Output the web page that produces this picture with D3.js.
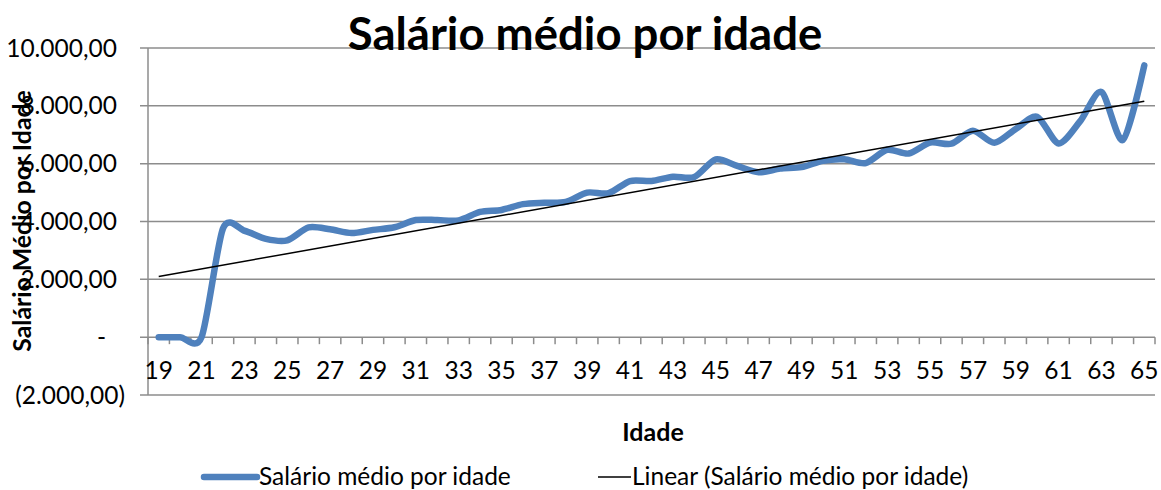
<!DOCTYPE html>
<html>
<head>
<meta charset="utf-8">
<script src="https://cdn.jsdelivr.net/npm/d3@7"></script>
<style>
    body { margin: 0; background: #fff; }
    svg { font-family: Lato, "Open Sans", sans-serif; }
    .grid line { stroke: #8c8c8c; stroke-width: 1.5; }
</style>
</head>
<body>
<div id="chart"></div>
<script>
// idades (categorias) e salario medio
const idades = d3.range(19, 66);
const salarios = [
    0, 0, 0, 3760, 3680, 3400, 3350, 3800, 3730, 3600,
    3710, 3800, 4050, 4050, 4040, 4330, 4400, 4600, 4650, 4680,
    5000, 4980, 5400, 5400, 5550, 5540, 6150, 5920, 5700, 5830,
    5880, 6100, 6150, 6020, 6480, 6350, 6730, 6690, 7140, 6720,
    7200, 7620, 6700, 7460, 8480, 6820, 9400
];
const yTicks = [-2000, 0, 2000, 4000, 6000, 8000, 10000];
const xLabels = idades.filter((d, i) => i % 2 == 0);

const data = idades.map((d, i) => ({ idade: d, valor: salarios[i] }));

let width = 1161, height = 490;
let margin = { top: 48, right: 6, bottom: 95, left: 148 };

let svg = d3.select("#chart").append("svg")
    .attr("width", width)
    .attr("height", height);

let x = d3.scaleBand()
    .domain(idades)
    .range([margin.left, width - margin.right]);

let y = d3.scaleLinear()
    .domain([-2000, 10000])
    .range([height - margin.bottom, margin.top]);

// linha de tendencia (minimos quadrados)
let n = data.length;
let mx = d3.mean(data, (d, i) => i), my = d3.mean(data, d => d.valor);
let slope = d3.sum(data, (d, i) => (i - mx) * (d.valor - my)) / d3.sum(data, (d, i) => (i - mx) * (i - mx));
let intercept = my - slope * mx;

// grade horizontal
svg.append("g")
    .attr("class", "grid")
    .selectAll("line")
    .data(yTicks)
    .join("line")
    .attr("x1", margin.left - 8)
    .attr("x2", width - margin.right)
    .attr("y1", d => y(d))
    .attr("y2", d => y(d));

// eixo vertical
svg.append("line")
    .attr("x1", margin.left).attr("x2", margin.left)
    .attr("y1", y(10000)).attr("y2", y(-2000))
    .attr("stroke", "#8c8c8c").attr("stroke-width", 1.5);

// marcas do eixo x (entre categorias)
let bounds = d3.range(n + 1).map(i => margin.left + i * x.bandwidth());
svg.append("g")
    .selectAll("line")
    .data(bounds)
    .join("line")
    .attr("x1", d => d).attr("x2", d => d)
    .attr("y1", y(0)).attr("y2", y(0) + 7)
    .attr("stroke", "#8c8c8c").attr("stroke-width", 1.5);

// rotulos y
const fmt = v => {
    if (v == 0) return "-";
    let s = d3.format(",.2f")(Math.abs(v)).replace(/,/g, "#").replace(".", ",").replace(/#/g, ".");
    return v < 0 ? "(" + s + ")" : s;
};
svg.append("g")
    .selectAll("text")
    .data(yTicks)
    .join("text")
    .attr("x", d => d == 0 ? 106 : (d < 0 ? 125 : 117))
    .attr("y", d => y(d))
    .attr("dy", "0.35em")
    .attr("text-anchor", "end")
    .style("font-size", "24.5px")
    .text(fmt);

// rotulos x
svg.append("g")
    .selectAll("text")
    .data(xLabels)
    .join("text")
    .attr("x", d => x(d) + x.bandwidth() / 2)
    .attr("y", 370)
    .attr("dy", "0.35em")
    .attr("text-anchor", "middle")
    .style("font-size", "24.5px")
    .text(d => d);

// serie suavizada
let line = d3.line()
    .x(d => x(d.idade) + x.bandwidth() / 2)
    .y(d => y(d.valor))
    .curve(d3.curveCardinal.tension(0.2));

svg.append("path")
    .datum(data)
    .attr("fill", "none")
    .attr("stroke", "#4f81bd")
    .attr("stroke-width", 6.5)
    .attr("stroke-linecap", "round")
    .attr("stroke-linejoin", "round")
    .attr("d", line);

// tendencia linear
svg.append("line")
    .attr("x1", x(idades[0]) + x.bandwidth() / 2)
    .attr("x2", x(idades[n - 1]) + x.bandwidth() / 2)
    .attr("y1", y(intercept))
    .attr("y2", y(intercept + slope * (n - 1)))
    .attr("stroke", "black")
    .attr("stroke-width", 1.5);

// titulos
svg.append("text")
    .attr("x", 585).attr("y", 50)
    .attr("text-anchor", "middle")
    .style("font-size", "45.5px").style("font-weight", "bold")
    .text("Salário médio por idade");

svg.append("text")
    .attr("transform", "translate(31,221) rotate(-90)")
    .attr("text-anchor", "middle")
    .style("font-size", "24.8px").style("font-weight", "bold")
    .text("Salário Médio por Idade");

svg.append("text")
    .attr("x", 653).attr("y", 441)
    .attr("text-anchor", "middle")
    .style("font-size", "25px").style("font-weight", "bold")
    .text("Idade");

// legenda
let legend = svg.append("g");
legend.append("line")
    .attr("x1", 204).attr("x2", 257).attr("y1", 477).attr("y2", 477)
    .attr("stroke", "#4f81bd").attr("stroke-width", 6.5).attr("stroke-linecap", "round");
legend.append("text")
    .attr("x", 259).attr("y", 476).attr("dy", "0.35em")
    .style("font-size", "24.5px")
    .text("Salário médio por idade");
legend.append("line")
    .attr("x1", 598).attr("x2", 631).attr("y1", 477).attr("y2", 477)
    .attr("stroke", "black").attr("stroke-width", 1.5);
legend.append("text")
    .attr("x", 632).attr("y", 476).attr("dy", "0.35em")
    .style("font-size", "24.5px")
    .text("Linear (Salário médio por idade)");
</script>
</body>
</html>
